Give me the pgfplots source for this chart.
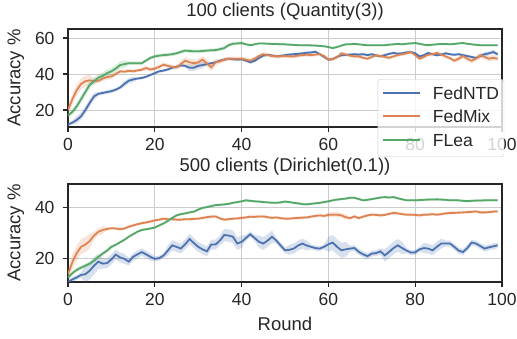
\documentclass[border=0pt]{standalone}
\usepackage{fontspec}
\setmainfont{Liberation Sans}
\usepackage{pgfplots}
\usepackage{pgfplotstable}
\pgfplotsset{compat=1.18}
\usepgfplotslibrary{fillbetween}
\definecolor{cB}{HTML}{4C72B0}
\definecolor{cO}{HTML}{DD8452}
\definecolor{cG}{HTML}{55A868}
\definecolor{spine}{HTML}{262626}
\definecolor{gridc}{HTML}{CCCCCC}
\definecolor{txt}{HTML}{262626}

% top panel: 100 clients (Quantity(3))
\pgfplotstableread[row sep=\\]{r m s\\
0 12 1\\ 1 13 1\\ 2 14.5 2\\ 3 16.5 2\\ 4 20 2\\ 5 24 2\\ 6 27.6 2\\ 7 29 1\\ 8 29.5 1\\ 9 30 1\\
10 30.5 1\\ 11 31.3 1\\ 12 32.5 1\\ 13 34.5 1.5\\ 14 36.3 1.5\\ 15 37 1.5\\ 16 37.5 .8\\ 17 37.8 .8\\ 18 38.5 .8\\ 19 39.5 .8\\
20 40.5 .8\\ 21 41.5 .8\\ 22 41.9 .8\\ 23 42.5 .8\\ 24 43.5 .8\\ 25 44 .8\\ 26 44.8 .8\\ 27 44.5 .8\\ 28 43.5 1.8\\ 29 43.5 1.8\\
30 44.5 1.8\\ 31 45 1.8\\ 32 45.5 .8\\ 33 46 .8\\ 34 46.5 .8\\ 35 47.4 .8\\ 36 48 .8\\ 37 48.5 .8\\ 38 48.3 .8\\ 39 48 .8\\
40 48.2 .8\\ 41 47.5 .8\\ 42 46.5 .8\\ 43 47.3 .8\\ 44 48.9 .8\\ 45 50.2 .8\\ 46 50.7 .7\\ 47 50.3 .7\\ 48 49.8 .7\\ 49 50 .7\\
50 50.5 .7\\ 51 50.8 .7\\ 52 51 .7\\ 53 51.2 .7\\ 54 51.5 .7\\ 55 51.8 .7\\ 56 52 .7\\ 57 52.4 .7\\ 58 51 .7\\ 59 49.5 .7\\
60 48 .7\\ 61 48.3 .7\\ 62 49.5 .7\\ 63 50.4 .7\\ 64 50.6 .7\\ 65 50.8 .7\\ 66 51 .7\\ 67 50.8 .7\\ 68 51 .7\\ 69 50.5 .7\\
70 51 .7\\ 71 50.3 .7\\ 72 49.8 .7\\ 73 50.5 .7\\ 74 51.2 .7\\ 75 51.7 .7\\ 76 51.3 .7\\ 77 51.5 .7\\ 78 52 .7\\ 79 52.2 .7\\
80 51.5 .7\\ 81 49.8 .7\\ 82 50.5 .7\\ 83 51.7 .7\\ 84 51 .7\\ 85 50.4 .7\\ 86 50.8 .7\\ 87 51.5 .7\\ 88 51 .7\\ 89 50.7 .7\\
90 51 .7\\ 91 50.5 .7\\ 92 50 .7\\ 93 49.5 .7\\ 94 48.9 .7\\ 95 50 1.2\\ 96 51 1.2\\ 97 51.5 1.2\\ 98 52.2 1.2\\ 99 51 1.2\\
}\tA
\pgfplotstableread[row sep=\\]{r m s\\
0 20 2.5\\ 1 26 3\\ 2 31 3\\ 3 34.5 3\\ 4 36 3\\ 5 36.5 3\\ 6 36 1.5\\ 7 36.3 1.5\\ 8 37.5 1.5\\ 9 38.3 1.5\\
10 38.7 1.5\\ 11 40 1\\ 12 41.5 1\\ 13 41.3 1\\ 14 41.8 1\\ 15 41.5 1\\ 16 42 1\\ 17 42.4 1\\ 18 43.3 1.2\\ 19 42.5 1.2\\
20 43 1.2\\ 21 44 1.2\\ 22 45.2 1.2\\ 23 44.5 1.2\\ 24 44 1.2\\ 25 43.7 1.2\\ 26 45.5 2\\ 27 47.4 2\\ 28 46.5 2\\ 29 46 2\\
30 46.5 2\\ 31 48 2\\ 32 46 2\\ 33 43.7 2\\ 34 46.5 2\\ 35 47 1.2\\ 36 48 1.2\\ 37 48.5 1.2\\ 38 48.5 1.2\\ 39 48.5 1.2\\
40 48.5 1.2\\ 41 48 1.2\\ 42 47.4 1.2\\ 43 48.5 1.2\\ 44 50 1.2\\ 45 51 1.2\\ 46 50.5 1\\ 47 50 1\\ 48 49.8 1\\ 49 49.8 1\\
50 50 1\\ 51 49.8 1\\ 52 49.8 1\\ 53 50.2 1\\ 54 50.5 1\\ 55 50.7 1\\ 56 50.5 1\\ 57 50.8 1\\ 58 51 1\\ 59 50 1\\
60 48 1\\ 61 48.3 1\\ 62 49.3 1\\ 63 51.5 1\\ 64 50.8 1\\ 65 50.2 1\\ 66 49.8 1\\ 67 49.8 1\\ 68 49 1\\ 69 48.5 1\\
70 49.5 1\\ 71 50.4 1\\ 72 50 1\\ 73 49.5 1\\ 74 49 1\\ 75 49.8 1\\ 76 50.5 1\\ 77 51 1\\ 78 51.5 1\\ 79 52.2 1\\
80 50.5 1\\ 81 48.5 1\\ 82 49.5 1\\ 83 50.7 1\\ 84 51 1\\ 85 51.7 1\\ 86 50.8 1\\ 87 49.8 1\\ 88 48.8 1\\ 89 47.4 1\\
90 48.5 1.5\\ 91 50 1.5\\ 92 48.5 1.5\\ 93 47.4 1.5\\ 94 48.5 1.5\\ 95 50.4 1.5\\ 96 49.5 1.5\\ 97 48.5 1.5\\ 98 49 1.5\\ 99 48.5 1\\
}\tB
\pgfplotstableread[row sep=\\]{r m s\\
0 17 1.5\\ 1 19 1.5\\ 2 22 2\\ 3 26 2\\ 4 30 2\\ 5 34 2\\ 6 36 2\\ 7 38 2\\ 8 39 2\\ 9 40.5 2\\
10 41.5 2\\ 11 43 2\\ 12 45 2\\ 13 45.5 2\\ 14 46 1\\ 15 46 1\\ 16 46 1\\ 17 46 1\\ 18 47.5 1\\ 19 49 1\\
20 49.8 1\\ 21 50.2 1\\ 22 50.5 1\\ 23 50.7 1\\ 24 51 1\\ 25 51.5 1\\ 26 52.3 1\\ 27 53 1\\ 28 52.8 1\\ 29 52.6 1\\
30 52.6 1\\ 31 52.8 1\\ 32 53 1\\ 33 53.2 1\\ 34 53.3 1\\ 35 53.8 1\\ 36 54.4 1\\ 37 56 1\\ 38 56.8 1\\ 39 57 1\\
40 57.2 1\\ 41 56.5 .6\\ 42 56 .6\\ 43 56.5 .6\\ 44 57 .6\\ 45 57 .6\\ 46 56.8 .6\\ 47 56.7 .6\\ 48 56.7 .6\\ 49 56.5 .6\\
50 56.5 .6\\ 51 56.3 .6\\ 52 56.2 .6\\ 53 56 .6\\ 54 56 .6\\ 55 56 .6\\ 56 55.9 .6\\ 57 55.8 .6\\ 58 55.6 .6\\ 59 55.4 .6\\
60 55 .6\\ 61 54.4 .6\\ 62 55 .6\\ 63 55.8 .6\\ 64 56.5 .6\\ 65 56.5 .6\\ 66 56.7 .6\\ 67 56.5 .6\\ 68 56.2 .6\\ 69 56 .6\\
70 56 .6\\ 71 56 .6\\ 72 56 .6\\ 73 56 .6\\ 74 56.3 .6\\ 75 56.5 .6\\ 76 56.7 .6\\ 77 56.5 .6\\ 78 56.8 .6\\ 79 57 .6\\
80 57.2 .6\\ 81 56.8 .6\\ 82 56.3 .6\\ 83 56 .6\\ 84 56.3 .6\\ 85 56.5 .6\\ 86 56.7 .6\\ 87 56.7 .6\\ 88 56.5 .6\\ 89 56.7 .6\\
90 57 .6\\ 91 57.2 .6\\ 92 56.8 .6\\ 93 56.5 .6\\ 94 56.2 .6\\ 95 56 .6\\ 96 56 .6\\ 97 56 .6\\ 98 56 .6\\ 99 56 .6\\
}\tC

% bottom panel: 500 clients (Dirichlet(0.1))
\pgfplotstableread[row sep=\\]{r m s\\
0 10.5 1\\ 1 11.5 1\\ 2 12.3 1\\ 3 13.3 1\\ 4 13.6 3.5\\ 5 15 3.5\\ 6 17 3.5\\ 7 18.6 3\\ 8 17.8 2\\ 9 18 2\\
10 19.5 2\\ 11 21.4 2\\ 12 20.3 2\\ 13 19.7 2\\ 14 18.6 1.5\\ 15 20.5 1.5\\ 16 21.5 1.5\\ 17 22.4 1.5\\ 18 21.5 1.5\\ 19 20.5 1.5\\
20 19.7 1\\ 21 20 1\\ 22 21 1\\ 23 23 2\\ 24 25.1 2\\ 25 24.5 2\\ 26 23.8 2\\ 27 25.5 2\\ 28 27.6 2\\ 29 26 2\\
30 24.5 2\\ 31 23.5 2\\ 32 22.7 2\\ 33 25.4 2\\ 34 25.4 2\\ 35 27 2\\ 36 29.2 2.5\\ 37 29 2.5\\ 38 28.5 2.5\\ 39 25.8 2.5\\
40 26.5 2.5\\ 41 28 1.2\\ 42 29.5 1.2\\ 43 28 1.2\\ 44 26.5 2.5\\ 45 25.8 2.5\\ 46 27 2.5\\ 47 28.5 2.5\\ 48 27 1.2\\ 49 25 1.2\\
50 23.1 1.2\\ 51 23.3 2\\ 52 23.8 2\\ 53 25 2\\ 54 25.8 2\\ 55 25 2\\ 56 24.5 1\\ 57 24 1\\ 58 23.8 1\\ 59 24.5 1\\
60 25.5 3\\ 61 26.2 3\\ 62 24.5 3\\ 63 23.1 3\\ 64 23.5 3\\ 65 23.8 1.2\\ 66 24 1.2\\ 67 22.5 1.2\\ 68 21.5 1.2\\ 69 20.8 1.2\\
70 21.8 1.2\\ 71 22 1.2\\ 72 22.7 1.2\\ 73 21.1 2.5\\ 74 22.5 2.5\\ 75 24 2.5\\ 76 25.1 2.5\\ 77 24 2.5\\ 78 23 1\\ 79 22.2 1\\
80 22.3 1\\ 81 23.5 1\\ 82 24 2\\ 83 23.8 2\\ 84 23.1 2\\ 85 24.5 2\\ 86 25.8 2\\ 87 25.8 1.2\\ 88 25.8 1.2\\ 89 24.5 1.2\\
90 23 1.2\\ 91 22.4 1.2\\ 92 24 1.2\\ 93 26.2 1.2\\ 94 25.8 1.2\\ 95 24.8 1.2\\ 96 23.8 1.2\\ 97 24.3 1.2\\ 98 24.7 1.2\\ 99 25.1 1.2\\
}\tD
\pgfplotstableread[row sep=\\]{r m s\\
0 13.6 2\\ 1 18.4 3\\ 2 22 3\\ 3 24.5 3\\ 4 25.4 3\\ 5 26.8 3\\ 6 29 1.5\\ 7 30.5 1.5\\ 8 31.2 1.5\\ 9 31.6 .6\\
10 31.9 .6\\ 11 31.8 .6\\ 12 31.5 .6\\ 13 31.8 .6\\ 14 32.5 .6\\ 15 33 .6\\ 16 33.5 .6\\ 17 33.9 .6\\ 18 34.2 .6\\ 19 34.6 .6\\
20 35 .6\\ 21 35.3 .6\\ 22 35.7 .6\\ 23 35.5 .6\\ 24 35.5 .6\\ 25 35.3 .6\\ 26 35.3 .6\\ 27 35.5 .6\\ 28 35.5 .6\\ 29 35.6 .6\\
30 35.7 .6\\ 31 36 .6\\ 32 36.3 .6\\ 33 36.5 .6\\ 34 36.6 .6\\ 35 35.8 .6\\ 36 35.3 .6\\ 37 35.5 .6\\ 38 35.7 .6\\ 39 35.8 .6\\
40 36 .6\\ 41 36.2 .6\\ 42 36.5 .6\\ 43 36.4 .6\\ 44 36.6 .6\\ 45 36.6 .6\\ 46 36.3 .6\\ 47 36 .6\\ 48 36.2 .6\\ 49 35.9 .6\\
50 35.7 .6\\ 51 35.7 .6\\ 52 35.9 .6\\ 53 36 .6\\ 54 36.1 .6\\ 55 36.2 .6\\ 56 36.5 .6\\ 57 36.8 .6\\ 58 37 .6\\ 59 36.8 .6\\
60 37.2 1\\ 61 37.3 1\\ 62 37.3 1\\ 63 37 1\\ 64 36.3 1\\ 65 35.9 .6\\ 66 36.6 .6\\ 67 35.9 .6\\ 68 36.5 .6\\ 69 37 .6\\
70 37.3 .6\\ 71 37.2 .6\\ 72 37 .6\\ 73 37.2 .6\\ 74 37.6 .6\\ 75 38 .6\\ 76 37.8 .6\\ 77 37.5 .6\\ 78 37.3 .6\\ 79 37.3 .6\\
80 37.2 .6\\ 81 37 .6\\ 82 37.3 .6\\ 83 37.3 .6\\ 84 37.5 .6\\ 85 37.3 .6\\ 86 37.5 .6\\ 87 37.8 .6\\ 88 38 .6\\ 89 38 .6\\
90 38.1 .6\\ 91 38.2 .6\\ 92 38.3 .6\\ 93 38.4 .6\\ 94 38.6 .6\\ 95 38.2 .6\\ 96 38.2 .6\\ 97 38.3 .6\\ 98 38.5 .6\\ 99 38.6 .6\\
}\tE
\pgfplotstableread[row sep=\\]{r m s\\
0 12.3 .8\\ 1 14 .8\\ 2 15.3 .8\\ 3 16.2 .8\\ 4 17 .8\\ 5 17.8 .8\\ 6 19 .8\\ 7 20.5 .8\\ 8 21.8 .8\\ 9 23 .8\\
10 24.5 .8\\ 11 25.3 .5\\ 12 26.3 .5\\ 13 27.3 .5\\ 14 28.5 .5\\ 15 29.5 .5\\ 16 30.5 .5\\ 17 31.2 .5\\ 18 31.5 .5\\ 19 31.8 .5\\
20 32.2 .5\\ 21 33 .5\\ 22 33.8 .5\\ 23 34.8 .5\\ 24 36 .5\\ 25 37 .5\\ 26 37.5 .5\\ 27 37.8 .5\\ 28 38.2 .5\\ 29 38.5 .5\\
30 39.3 .5\\ 31 40 .5\\ 32 40.3 .5\\ 33 40.7 .5\\ 34 41.1 .5\\ 35 41.2 .5\\ 36 41.4 .5\\ 37 41.6 .5\\ 38 42 .5\\ 39 42.3 .5\\
40 42.6 .5\\ 41 43 .5\\ 42 42.8 .5\\ 43 42.6 .5\\ 44 42.5 .5\\ 45 42.3 .5\\ 46 42.2 .5\\ 47 42 .5\\ 48 42 .5\\ 49 42.2 .5\\
50 42.5 .5\\ 51 42.3 .5\\ 52 42 .5\\ 53 41.8 .5\\ 54 41.5 .5\\ 55 41.4 .5\\ 56 41.6 .5\\ 57 41.8 .5\\ 58 42 .5\\ 59 42.3 .5\\
60 42.6 .5\\ 61 43 .5\\ 62 43.3 .5\\ 63 43.5 .5\\ 64 43.7 .5\\ 65 44 .5\\ 66 44 .5\\ 67 43.5 .5\\ 68 43 .5\\ 69 43.2 .5\\
70 43.5 .5\\ 71 43.8 .5\\ 72 44.1 .5\\ 73 44.3 .5\\ 74 44.1 .5\\ 75 44.3 .5\\ 76 43.8 .5\\ 77 43.4 .5\\ 78 43 .5\\ 79 43 .5\\
80 43 .5\\ 81 43.1 .5\\ 82 43.2 .5\\ 83 43.3 .5\\ 84 43.3 .5\\ 85 43.4 .5\\ 86 43.3 .5\\ 87 43.2 .5\\ 88 43 .5\\ 89 43 .5\\
90 43 .5\\ 91 42.8 .5\\ 92 42.7 .5\\ 93 42.8 .5\\ 94 42.9 .5\\ 95 42.9 .5\\ 96 43 .5\\ 97 43 .5\\ 98 43 .5\\ 99 43 .5\\
}\tF

\pgfplotsset{
  myax/.style={
    scale only axis, width=434pt, height=98pt,
    xmin=0, xmax=100,
    axis line style={draw=spine, line width=1.3pt},
    grid=major, major grid style={draw=gridc, line width=1pt},
    tick align=outside, major tick length=5pt,
    xtick pos=bottom, ytick pos=left,
    tick style={draw=spine, line width=1.2pt},
    xtick={0,20,40,60,80,100},
    /pgf/number format/assume math mode=true,
    ticklabel style={font=\fontsize{17.5}{20}\selectfont, text=txt},
    xticklabel style={yshift=-3pt},
    yticklabel style={xshift=-5pt},
    label style={font=\fontsize{18.5}{21}\selectfont, text=txt},
    title style={font=\fontsize{18.5}{21}\selectfont, text=txt, at={(0.5,1)}, anchor=south, yshift=-1pt},
    ylabel style={at={(axis description cs:-0.12,0.5)}, anchor=center},
  },
  band/.style={draw=none, forget plot},
}
\newcommand{\series}[2]{%
  \addplot[band, name path=u#2] table[x=r, y expr=\thisrow{m}+\thisrow{s}] {#1};
  \addplot[band, name path=l#2] table[x=r, y expr=\thisrow{m}-\thisrow{s}] {#1};
  \addplot[fill=#2, fill opacity=0.22, draw=none, forget plot] fill between[of=u#2 and l#2];
}
\newcommand{\lgline}[1]{\textcolor{#1}{\rule[5.3pt]{37pt}{1.8pt}}\hspace{13pt}}

\begin{document}
\begin{tikzpicture}
\begin{axis}[myax,
  ymin=10.6, ymax=65, ytick={20,40,60},
  title={100 clients (Quantity(3))},
  ylabel={Accuracy \%},
  legend cell align=left,
  legend style={at={(1.005,-0.306)}, anchor=south east, draw=gridc, rounded corners=3pt,
    fill=white, fill opacity=0.8, text opacity=1, draw opacity=1,
    font=\fontsize{17.5}{20}\selectfont, text=txt, inner xsep=5pt, inner ysep=7pt,
    row sep=7pt, column sep=0pt,
    nodes={inner xsep=0pt, inner ysep=0pt, text height=12.8pt, text depth=3.7pt}},
  legend image code/.code={},
]
\series{\tA}{cB}
\series{\tB}{cO}
\series{\tC}{cG}
\addplot[cB, line width=1.8pt] table[x=r, y=m] {\tA};
\addplot[cO, line width=1.8pt] table[x=r, y=m] {\tB};
\addplot[cG, line width=1.8pt] table[x=r, y=m] {\tC};
\legend{{\lgline{cB}FedNTD}, {\lgline{cO}FedMix}, {\lgline{cG}FLea}}
\end{axis}
\begin{axis}[myax, at={(0pt,-155pt)}, anchor=south west,
  ymin=10.5, ymax=49.5, ytick={20,40},
  title={500 clients (Dirichlet(0.1))},
  ylabel={Accuracy \%},
  xlabel={Round},
  xlabel style={at={(axis description cs:0.5,0)}, anchor=north, yshift=-32pt},
]
\series{\tD}{cB}
\series{\tE}{cO}
\series{\tF}{cG}
\addplot[cB, line width=1.8pt] table[x=r, y=m] {\tD};
\addplot[cO, line width=1.8pt] table[x=r, y=m] {\tE};
\addplot[cG, line width=1.8pt] table[x=r, y=m] {\tF};
\end{axis}
\pgfresetboundingbox
\path[use as bounding box] (-68pt,-212pt) rectangle (449pt,127pt);
\end{tikzpicture}
\end{document}
